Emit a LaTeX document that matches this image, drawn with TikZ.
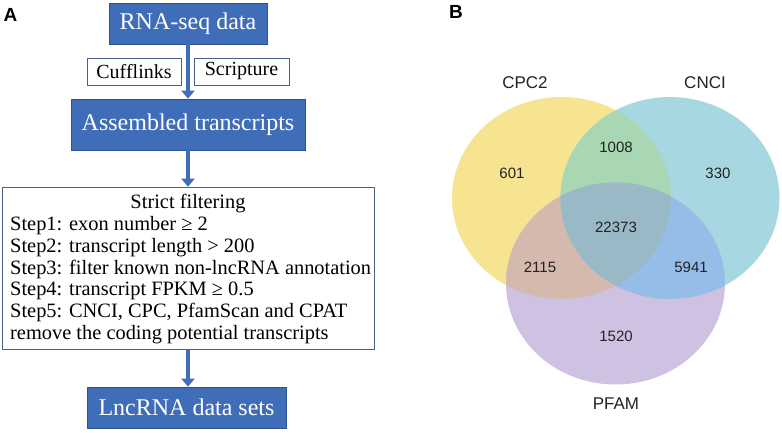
\documentclass[tikz,border=0pt]{standalone}
\usepackage{fontspec}
\setmainfont{Liberation Serif}
\newfontfamily\vennfont{Liberation Sans}
\usetikzlibrary{arrows.meta}
\definecolor{boxblue}{HTML}{3F6DB8}
\definecolor{boxedge}{HTML}{2F528F}
\definecolor{thinedge}{HTML}{4A5E8A}
\definecolor{cY}{HTML}{F7E491}
\definecolor{cC}{HTML}{A7D8E1}
\definecolor{cP}{HTML}{CFC1E1}
\definecolor{cYC}{HTML}{A9D6B3}
\definecolor{cYP}{HTML}{D4B9AF}
\definecolor{cCP}{HTML}{94BEE7}
\definecolor{cYCP}{HTML}{98B9C5}
\definecolor{numcol}{HTML}{222222}
\tikzset{
  bluebox/.style={draw=boxedge, line width=0.8pt, fill=boxblue, text=white, inner sep=0pt, font=\fontsize{24}{28}\selectfont},
  whitebox/.style={draw=thinedge, line width=0.7pt, fill=white, inner sep=0pt, font=\fontsize{20}{24}\selectfont},
  flowarrow/.style={draw=boxblue, line width=4.5pt, -{Triangle[width=13pt,length=8pt]}},
  steptext/.style={anchor=base west, inner sep=0pt, font=\fontsize{20.4}{24}\selectfont},
  panellabel/.style={font=\vennfont\bfseries\fontsize{19}{22}\selectfont, inner sep=0pt},
  setlabel/.style={font=\vennfont\fontsize{17}{20}\selectfont, text=numcol, inner sep=0pt},
  numlabel/.style={font=\vennfont\fontsize{15}{18}\selectfont, text=numcol, inner sep=0pt}
}
\begin{document}
\begin{tikzpicture}[x=1pt,y=-1pt]
\useasboundingbox (0,0) rectangle (782,432);
\fill[white] (0,0) rectangle (782,432);

% Panel A
\node[panellabel] (lA) at (10.5,15) {A};
\node[bluebox, minimum width=158pt, minimum height=41pt] (rna) at (188,23.5) {RNA-seq data};
\node[whitebox, minimum width=94pt, minimum height=27pt] (cuff) at (134,71.5) {Cufflinks};
\node[whitebox, minimum width=95pt, minimum height=27pt] (scrip) at (241.5,71.5) {Scripture};
\node[bluebox, minimum width=234pt, minimum height=51pt] (asm) at (188,124.5) {Assembled transcripts};
\node[whitebox, minimum width=372pt, minimum height=162pt] (filt) at (188,268) {};
\node[bluebox, minimum width=199pt, minimum height=41pt] (lnc) at (186.5,407.5) {LncRNA data sets};

\node[anchor=base, inner sep=0pt, font=\fontsize{20.4}{24}\selectfont] (title) at (188,208) {Strict filtering};
\node[steptext] (s1) at (10,230) {Step1: exon number ≥ 2};
\node[steptext] (s2) at (10,252) {Step2: transcript length > 200};
\node[steptext] (s3) at (10,274) {Step3: filter known non-lncRNA annotation};
\node[steptext] (s4) at (10,295.5) {Step4: transcript FPKM ≥ 0.5};
\node[steptext] (s5) at (10,317.5) {Step5: CNCI, CPC, PfamScan and CPAT};
\node[steptext] (s6) at (10,339) {remove the coding potential transcripts};

\draw[flowarrow] (rna.south) -- (asm.north);
\draw[flowarrow] (asm.south) -- (filt.north);
\coordinate (lnctop) at (filt.south |- lnc.north);
\draw[flowarrow] (filt.south) -- (lnctop);

% Panel B
\node[panellabel] (lB) at (456,12) {B};
\def\ellY{(561.5,198) ellipse [x radius=109.5, y radius=101]}
\def\ellC{(670,198) ellipse [x radius=109.5, y radius=101]}
\def\ellP{(615.5,283.5) ellipse [x radius=109.5, y radius=101]}
\fill[cY] \ellY;
\fill[cC] \ellC;
\fill[cP] \ellP;
\begin{scope}
  \clip \ellY;
  \fill[cYC] \ellC;
  \fill[cYP] \ellP;
\end{scope}
\begin{scope}
  \clip \ellC;
  \fill[cCP] \ellP;
\end{scope}
\begin{scope}
  \clip \ellY;
  \clip \ellC;
  \fill[cYCP] \ellP;
\end{scope}

\node[setlabel] (cpc2) at (525,83) {CPC2};
\node[setlabel] (cnci) at (705,83) {CNCI};
\node[setlabel] (pfam) at (616,404) {PFAM};
\node[numlabel] (n601) at (512,173) {601};
\node[numlabel] (n1008) at (616,147) {1008};
\node[numlabel] (n330) at (718,173) {330};
\node[numlabel] (n22373) at (616,227) {22373};
\node[numlabel] (n2115) at (540,267) {2115};
\node[numlabel] (n5941) at (691,267) {5941};
\node[numlabel] (n1520) at (616,336) {1520};
\end{tikzpicture}
\end{document}
